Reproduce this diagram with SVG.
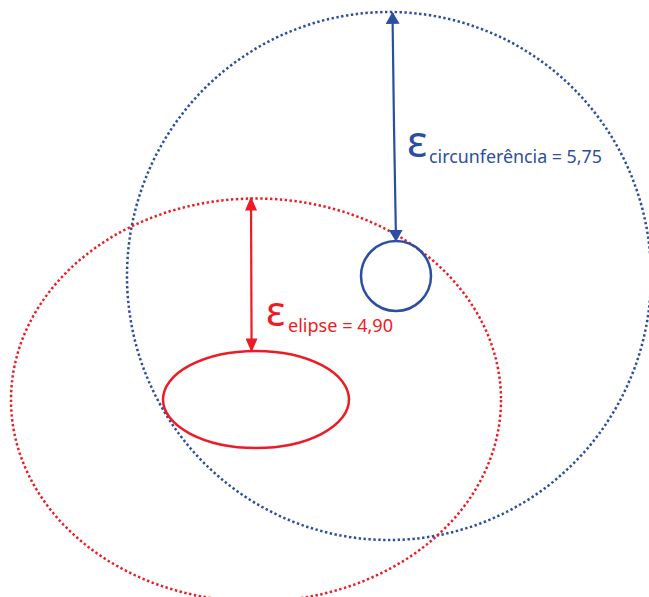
<svg xmlns="http://www.w3.org/2000/svg" width="649" height="597" viewBox="0 0 649 597">
<defs>
<style>
.blue{stroke:#2b4ea2;fill:none}
.red{stroke:#ed1c24;fill:none}
.dot{stroke-width:2.5;stroke-dasharray:2.4 2.5}
.solid{stroke-width:2.5}
.lbl{font-family:"Noto Sans","Open Sans",sans-serif}
</style>
<marker id="ab" viewBox="0 0 10 10" refX="9" refY="5" markerUnits="userSpaceOnUse" markerWidth="12" markerHeight="14" orient="auto" preserveAspectRatio="none"><path d="M0,0 L10,5 L0,10 z" fill="#2b4ea2"/></marker>
<marker id="ar" viewBox="0 0 10 10" refX="9" refY="5" markerUnits="userSpaceOnUse" markerWidth="14" markerHeight="12" orient="auto" preserveAspectRatio="none"><path d="M0,0 L10,5 L0,10 z" fill="#ed1c24"/></marker>
</defs>
<rect width="649" height="597" fill="#fff"/>
<g id="blue-outer"><ellipse class="blue dot" cx="389" cy="276" rx="262" ry="264"/></g>
<g id="red-outer"><ellipse class="red dot" cx="256" cy="400" rx="245" ry="201.5"/></g>
<g id="blue-circle"><circle class="blue solid" cx="396" cy="276" r="35"/></g>
<g id="red-ellipse"><ellipse class="red solid" cx="256" cy="399.5" rx="93" ry="48.5"/></g>
<g id="connectors">
<line class="blue" stroke-width="2.2" x1="394" y1="126" x2="392.5" y2="13" marker-end="url(#ab)"/>
<line class="blue" stroke-width="2.2" x1="394" y1="126" x2="396" y2="240.5" marker-end="url(#ab)"/>
<line class="red" stroke-width="2.2" x1="251.3" y1="274" x2="251" y2="198" marker-end="url(#ar)"/>
<line class="red" stroke-width="2.2" x1="251.3" y1="274" x2="251.6" y2="351" marker-end="url(#ar)"/>
</g>
<g id="label-circ" class="lbl" fill="#2b4ea2">
<text x="407" y="157" font-size="43">ε</text>
<text x="429" y="163" font-size="18" textLength="173" lengthAdjust="spacingAndGlyphs">circunferência = 5,75</text>
</g>
<g id="label-elipse" class="lbl" fill="#ed1c24">
<text x="266" y="326" font-size="41">ε</text>
<text x="288" y="332" font-size="18.5" textLength="105" lengthAdjust="spacingAndGlyphs">elipse = 4,90</text>
</g>
</svg>
